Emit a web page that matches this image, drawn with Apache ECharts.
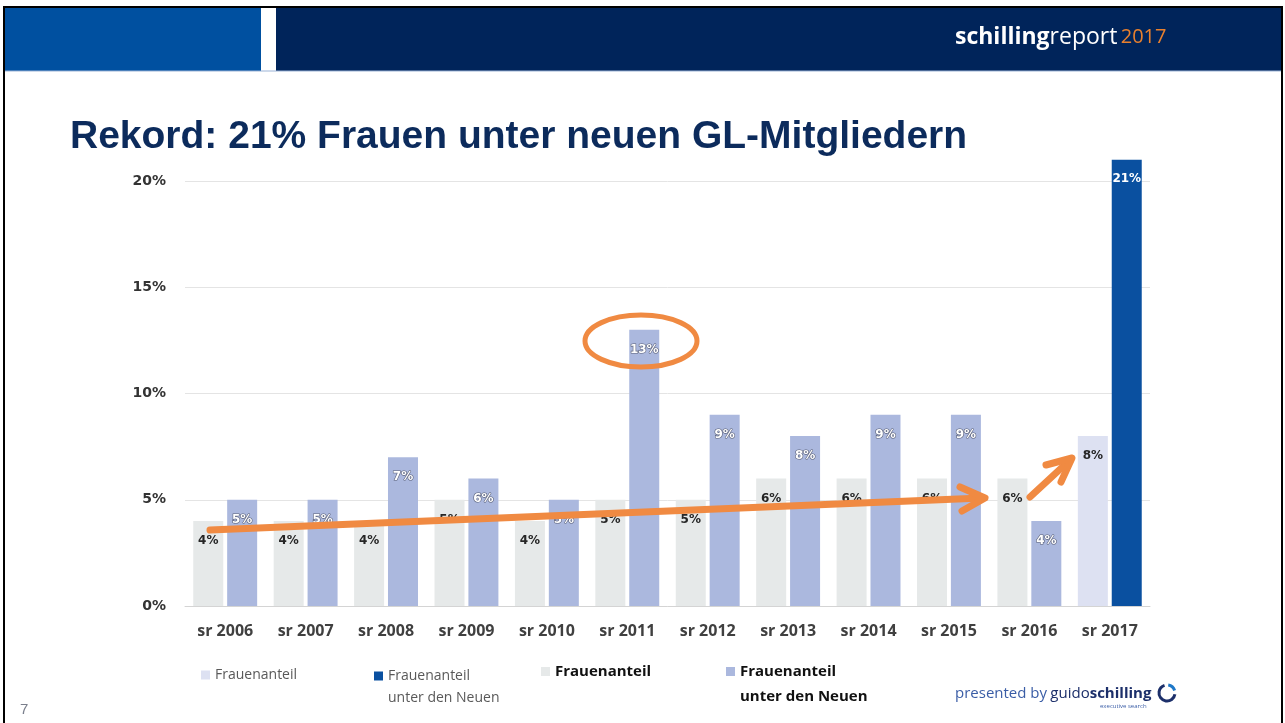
<!DOCTYPE html>
<html>
<head>
<meta charset="utf-8">
<script src="https://cdn.jsdelivr.net/npm/echarts@6/dist/echarts.min.js"></script>
<style>
  html, body { margin: 0; padding: 0; background: #fff; }
  #chart { width: 1285px; height: 723px; }
</style>
</head>
<body>
<div id="chart"></div>
<script>
var categories = ["sr 2006", "sr 2007", "sr 2008", "sr 2009", "sr 2010", "sr 2011",
  "sr 2012", "sr 2013", "sr 2014", "sr 2015", "sr 2016", "sr 2017"];
// Frauenanteil (grey bars, 2006-2016)
var frauenanteil = [4, 4, 4, 5, 4, 5, 5, 6, 6, 6, 6, null];
// Frauenanteil unter den Neuen (lavender bars, 2006-2016)
var neueAnteil = [5, 5, 7, 6, 5, 13, 9, 8, 9, 9, 4, null];
// 2017 highlight
var frauenanteil2017 = [null, null, null, null, null, null, null, null, null, null, null, 8];
var neueAnteil2017 = [null, null, null, null, null, null, null, null, null, null, null, 21];
var yTicks = [0, 5, 10, 15, 20];

var chart = echarts.init(document.getElementById("chart"));

var darkLabel = {
  show: true,
  position: "insideTop",
  distance: 14,
  formatter: "{c}%",
  fontFamily: "DejaVu Sans",
  fontWeight: "bold",
  fontSize: 12,
  color: "#262626"
};
var whiteLabel = {
  show: true,
  position: "insideTop",
  distance: 14,
  formatter: "{c}%",
  fontFamily: "DejaVu Sans",
  fontWeight: "bold",
  fontSize: 12,
  color: "#ffffff",
  textBorderColor: "#5a6078",
  textBorderWidth: 1.2
};

var legendLight = { color: "#595959", fontSize: 14, fontFamily: "Open Sans", lineHeight: 22 };
var legendDark = { color: "#111", fontSize: 15, fontWeight: "bold", fontFamily: "Open Sans", lineHeight: 25 };

// two-line names get a blank first line so the icon sits next to the first text line
function legendAt(name, label, color, left, top, style) {
  return {
    left: left,
    top: top,
    padding: 0,
    itemWidth: 9,
    itemHeight: 9,
    selectedMode: false,
    icon: "rect",
    formatter: function () { return label; },
    textStyle: style,
    data: [{ name: name, itemStyle: { color: color } }]
  };
}

var orange = "#f08a42";

var option = {
  animation: false,
  backgroundColor: "#ffffff",
  grid: { left: 185, right: 135, top: 181, bottom: 117 },
  legend: [
    legendAt("fa2017", "Frauenanteil", "#dde1f2", 201, 664, legendLight),
    legendAt("na2017", "\nFrauenanteil\nunter den Neuen", "#0a50a0", 374, 643, legendLight),
    legendAt("fa", "Frauenanteil", "#e6e9e9", 541, 659, legendDark),
    legendAt("na", "\nFrauenanteil\nunter den Neuen", "#abb8de", 726, 634, legendDark)
  ],
  xAxis: {
    type: "category",
    data: categories,
    axisTick: { show: false },
    axisLine: { lineStyle: { color: "#d4d4d4", width: 1 } },
    axisLabel: {
      margin: 17,
      fontFamily: "Open Sans",
      fontWeight: "bold",
      fontSize: 16,
      color: "#404040"
    }
  },
  yAxis: {
    type: "value",
    min: yTicks[0],
    max: yTicks[yTicks.length - 1],
    interval: 5,
    axisLine: { show: false },
    axisTick: { show: false },
    splitLine: { lineStyle: { color: "#e4e4e4", width: 1 } },
    axisLabel: {
      margin: 19,
      formatter: "{value}%",
      fontFamily: "DejaVu Sans",
      fontWeight: "bold",
      fontSize: 14,
      color: "#333333"
    }
  },
  series: [
    {
      name: "fa2017", type: "bar", stack: "a", data: frauenanteil2017,
      barWidth: 30, barGap: "13%", clip: false,
      itemStyle: { color: "#dde1f2" }, label: darkLabel
    },
    {
      name: "na2017", type: "bar", stack: "b", data: neueAnteil2017,
      barWidth: 30, barGap: "13%", clip: false,
      itemStyle: { color: "#0a50a0" },
      label: Object.assign({}, whiteLabel, { distance: 13, textBorderWidth: 0 })
    },
    {
      name: "fa", type: "bar", stack: "a", data: frauenanteil,
      barWidth: 30, barGap: "13%", clip: false,
      itemStyle: { color: "#e6e9e9" }, label: darkLabel
    },
    {
      name: "na", type: "bar", stack: "b", data: neueAnteil,
      barWidth: 30, barGap: "13%", clip: false,
      itemStyle: { color: "#abb8de" }, label: whiteLabel
    }
  ],
  graphic: [
    // slide frame
    { type: "line", shape: { x1: 3, y1: 7, x2: 1283, y2: 7 }, style: { stroke: "#000", lineWidth: 2 } },
    { type: "line", shape: { x1: 4, y1: 7, x2: 4, y2: 723 }, style: { stroke: "#000", lineWidth: 2 } },
    { type: "line", shape: { x1: 1282, y1: 7, x2: 1282, y2: 723 }, style: { stroke: "#000", lineWidth: 2 } },
    // header band
    { type: "rect", shape: { x: 5, y: 8, width: 256, height: 63 }, style: { fill: "#0050a0" } },
    { type: "rect", shape: { x: 276, y: 8, width: 1005, height: 63 }, style: { fill: "#00245a" } },
    { type: "line", shape: { x1: 5, y1: 71, x2: 1281, y2: 71 }, style: { stroke: "#9bb3d6", lineWidth: 1 } },
    {
      type: "text", left: 955, top: 26,
      style: {
        text: "{b|schilling}{r|report} {o|2017}",
        rich: {
          b: { fontFamily: "Open Sans", fontWeight: "bold", fontSize: 23, fill: "#ffffff" },
          r: { fontFamily: "Open Sans", fontSize: 23, fill: "#ffffff" },
          o: { fontFamily: "Open Sans", fontSize: 20, fill: "#e8802e" }
        }
      }
    },
    // title
    {
      type: "text", x: 70, y: 137,
      style: {
        text: "Rekord: 21% Frauen unter neuen GL-Mitgliedern",
        fontFamily: "Liberation Sans", fontWeight: "bold", fontSize: 39,
        fill: "#0c2b5c", verticalAlign: "middle"
      }
    },
    // annotations (above the bars)
    {
      type: "polyline", z: 100, shape: { points: [[210, 530], [982, 498]] },
      style: { stroke: orange, lineWidth: 7, lineCap: "round" }
    },
    {
      type: "polyline", z: 100, shape: { points: [[960, 487], [985, 498], [962, 511]] },
      style: { stroke: orange, lineWidth: 7, lineCap: "round", lineJoin: "round", fill: null }
    },
    {
      type: "polyline", z: 100, shape: { points: [[1030, 497], [1070, 460]] },
      style: { stroke: orange, lineWidth: 7, lineCap: "round" }
    },
    {
      type: "polyline", z: 100, shape: { points: [[1046, 465], [1072, 458], [1061, 482]] },
      style: { stroke: orange, lineWidth: 7, lineCap: "round", lineJoin: "round", fill: null }
    },
    {
      type: "ellipse", z: 100, shape: { cx: 641, cy: 341, rx: 56, ry: 26 },
      style: { stroke: orange, lineWidth: 5, fill: null }
    },
    // page number
    {
      type: "text", x: 20, y: 710,
      style: { text: "7", fontFamily: "Liberation Sans", fontSize: 15, fill: "#7a7f8c", verticalAlign: "middle" }
    },
    // footer logo
    {
      type: "text", x: 955, y: 694,
      style: {
        text: "{p|presented by} {g|guido}{s|schilling}",
        verticalAlign: "middle",
        rich: {
          p: { fontFamily: "Open Sans", fontSize: 15, fill: "#3a5da6" },
          g: { fontFamily: "Open Sans", fontSize: 15, fill: "#1c2f6a" },
          s: { fontFamily: "Open Sans", fontWeight: "bold", fontSize: 15, fill: "#1c2f6a" }
        }
      }
    },
    {
      type: "text", x: 1100, y: 706,
      style: { text: "executive search", fontFamily: "Open Sans", fontSize: 6, fill: "#3a5da6", verticalAlign: "middle" }
    },
    {
      type: "arc", shape: { cx: 1167, cy: 693, r: 8, startAngle: Math.PI * 0.05, endAngle: Math.PI * 1.4 },
      style: { stroke: "#1c2f6a", lineWidth: 3, fill: null }
    },
    {
      type: "arc", shape: { cx: 1167, cy: 693, r: 8, startAngle: Math.PI * 1.55, endAngle: Math.PI * 1.9 },
      style: { stroke: "#1e78c8", lineWidth: 3, fill: null }
    }
  ]
};

chart.setOption(option);
</script>
</body>
</html>
